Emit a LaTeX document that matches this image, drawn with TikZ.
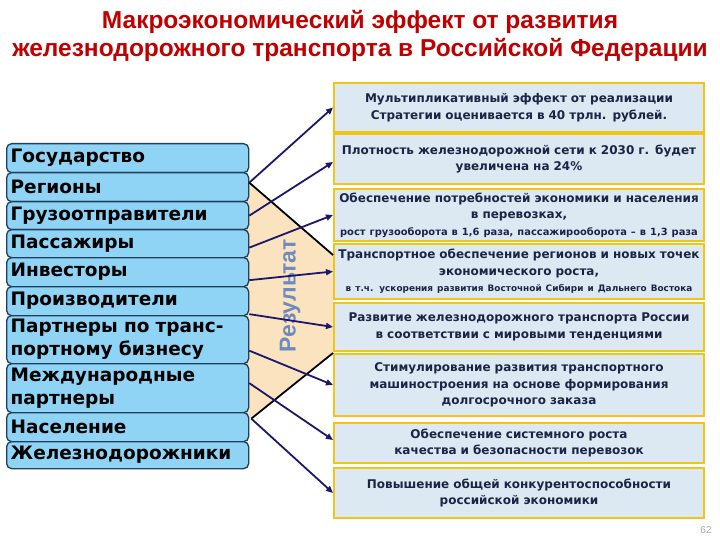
\documentclass[tikz,border=0pt]{standalone}
\usepackage{fontspec}
\setmainfont{Liberation Sans}
\newfontfamily\dvs{DejaVu Sans}
\newfontfamily\lib{Liberation Sans}
\usetikzlibrary{arrows.meta,calc,backgrounds}
\definecolor{titlered}{HTML}{BE0000}
\definecolor{lfill}{HTML}{8FD3F5}
\definecolor{lborder}{HTML}{1F3F5F}
\definecolor{rfill}{HTML}{DDE9F2}
\definecolor{gold}{HTML}{F2C514}
\definecolor{rtext}{HTML}{1A2545}
\definecolor{peach}{HTML}{FCE3BF}
\definecolor{navy}{HTML}{1A186E}
\definecolor{resblue}{HTML}{6E8BBE}
\tikzset{
  lbox/.style={draw=lborder, fill=lfill, line width=1.3pt, rounded corners=5pt,
    minimum width=242pt, text width=234pt, align=left, inner xsep=4pt, inner ysep=0pt,
    anchor=north west, font=\dvs\bfseries\fontsize{18.5}{23}\selectfont},
  rbox/.style={draw=gold, fill=rfill, line width=2pt, minimum width=370pt,
    text width=366pt, align=center, inner sep=0pt, anchor=north west, text=rtext,
    font=\dvs\bfseries\fontsize{12}{16.5}\selectfont},
  navyarrow/.style={draw=navy, line width=1.8pt, -{Triangle[length=7pt,width=6pt]}},
  blackline/.style={draw=black, line width=1.8pt},
}
\newcommand{\smalltxt}{\fontsize{9.9}{15.5}\selectfont}
\newcommand{\smallertxt}{\fontsize{8.9}{15.5}\selectfont}
\begin{document}
\begin{tikzpicture}[x=1pt,y=-1pt]
\useasboundingbox (0,0) rectangle (720,540);
% title
\node[text=titlered, font=\lib\bfseries\fontsize{24.5}{28}\selectfont, align=center] (title) at (360,36)
  {Макроэкономический эффект от развития\\железнодорожного транспорта в Российской Федерации};
% left boxes
\node[lbox, minimum height=29pt] (gos) at (6,143) {Государство};
\node[lbox, minimum height=29pt] (reg) at (6,172) {Регионы};
\node[lbox, minimum height=28pt] (gruz) at (6,201) {Грузоотправители};
\node[lbox, minimum height=28pt] (pass) at (6,229) {Пассажиры};
\node[lbox, minimum height=29pt] (inv) at (6,257) {Инвесторы};
\node[lbox, minimum height=29pt] (prod) at (6,286) {Производители};
\node[lbox, minimum height=48pt] (part) at (6,315) {Партнеры по транс-\\портному бизнесу};
\node[lbox, minimum height=49pt] (mezh) at (6,363) {Международные\\партнеры};
\node[lbox, minimum height=29pt] (nas) at (6,412) {Население};
\node[lbox, minimum height=27pt] (zhd) at (6,441) {Железнодорожники};
% right boxes
\node[rbox, minimum height=49pt] (b1) at (333,82) {Мультипликативный эффект от реализации\\Стратегии оценивается в 40 трлн. рублей.};
\node[rbox, minimum height=50pt] (b2) at (333,133) {Плотность железнодорожной сети к 2030 г. будет\\увеличена на 24\%};
\node[rbox, minimum height=52pt] (b3) at (333,188) {Обеспечение потребностей экономики и населения\\в перевозках,\\{\smalltxt рост грузооборота в 1,6 раза, пассажирооборота – в 1,3 раза}};
\node[rbox, minimum height=55pt] (b4) at (333,243) {Транспортное обеспечение регионов и новых точек\\экономического роста,\\{\smallertxt в т.ч. ускорения развития Восточной Сибири и Дальнего Востока}};
\node[rbox, minimum height=48pt] (b5) at (333,302) {Развитие железнодорожного транспорта России\\в соответствии с мировыми тенденциями};
\node[rbox, minimum height=62pt] (b6) at (333,353) {Стимулирование развития транспортного\\машиностроения на основе формирования\\долгосрочного заказа};
\node[rbox, minimum height=40pt] (b7) at (333,422) {Обеспечение системного роста\\качества и безопасности перевозок};
\node[rbox, minimum height=50pt] (b8) at (333,467) {Повышение общей конкурентоспособности\\российской экономики};
% result label
\node[rotate=90, text=resblue, font=\lib\bfseries\fontsize{23}{26}\selectfont] (res) at (290,296) {Результат};
% peach area
\begin{scope}[on background layer]
\fill[peach] (200,182) -- ($(reg.east)+(0,-4.5)$) -- ($(b4.north west)+(0,12)$) -- (b6.north west) -- ($(nas.east)+(2,-8.5)$) -- (200,418) -- cycle;
\end{scope}
% connectors
\draw[blackline] ($(reg.east)+(0,-4.5)$) -- ($(b4.north west)+(0,12)$);
\draw[blackline] ($(nas.east)+(2,-8.5)$) -- (b6.north west);
\draw[navyarrow] ($(reg.east)+(0,-4.5)$) -- (b1.west);
\draw[navyarrow] (gruz.east) -- ($(b2.west)+(0,3)$);
\draw[navyarrow] ($(pass.east)+(0,4)$) -- (b3.west);
\draw[navyarrow] ($(inv.east)+(0,8)$) -- (b4.west);
\draw[navyarrow] ($(prod.east)+(0,13)$) -- (b5.west);
\draw[navyarrow] ($(part.east)+(0,11)$) -- (b6.west);
\draw[navyarrow] ($(mezh.east)+(0,-5)$) -- ($(b7.west)+(0,-3)$);
\draw[navyarrow] ($(nas.east)+(2,-8.5)$) -- (b8.west);
% page number
\node[text=gray!70, font=\lib\fontsize{10}{12}\selectfont] (pg) at (706,530) {62};
\end{tikzpicture}
\end{document}
